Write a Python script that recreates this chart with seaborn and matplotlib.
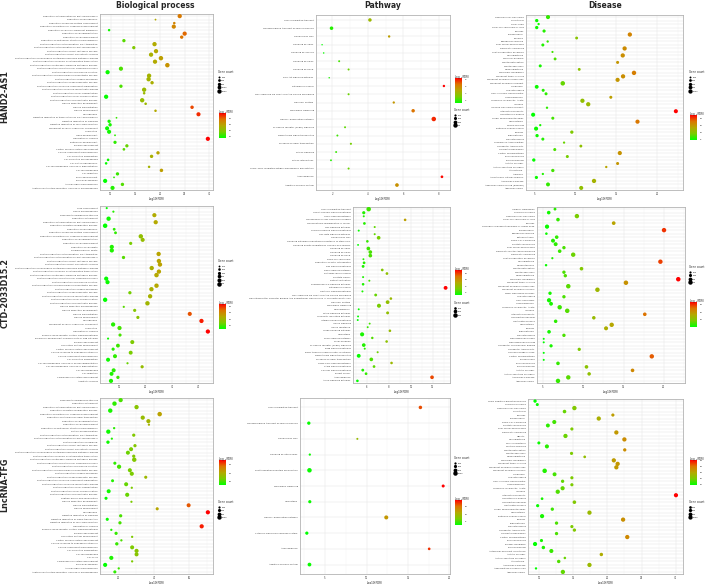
import numpy as np
import pandas as pd
import matplotlib
matplotlib.use("Agg")
import matplotlib.pyplot as plt
from matplotlib.colors import LinearSegmentedColormap, Normalize
from matplotlib.cm import ScalarMappable
from matplotlib.lines import Line2D
from matplotlib.ticker import AutoMinorLocator
import seaborn as sns

sns.set_theme(style="whitegrid")
plt.rcParams["font.family"] = ["DejaVu Sans"]

# ----------------------------------------------------------------------
# DATA  (-log10(FDR) and gene counts)
# ----------------------------------------------------------------------
column_titles = ["Biological process", "Pathway", "Disease"]
row_titles = ["HAND2-AS1", "CTD-2033D15.2", "LncRNA-TFG"]

# --- Biological process, HAND2-AS1 ---
bp_hand2_terms = [
    "Regulation of transcription by RNA polymerase II", "Regulation of neurogenesis",
    "Regulation of nervous system development", "Regulation of multicellular organismal development",
    "Regulation of cellular component biogenesis", "Regulation of cell differentiation",
    "Regulation of cell development", "Regulation of anatomical structure morphogenesis",
    "Positive regulation of transcription, DNA-templated",
    "Positive regulation of transcription by RNA polymerase II",
    "Positive regulation of RNA metabolic process", "Positive regulation of RNA biosynthetic process",
    "Positive regulation of nucleobase-containing compound metabolic process",
    "Positive regulation of nucleic acid-templated transcription",
    "Positive regulation of nitrogen compound metabolic process",
    "Positive regulation of multicellular organismal process",
    "Positive regulation of molecular function",
    "Positive regulation of macromolecule biosynthetic process",
    "Positive regulation of gene expression", "Positive regulation of developmental process",
    "Positive regulation of cellular component organization",
    "Positive regulation of cellular biosynthetic process",
    "Positive regulation of cell differentiation", "Positive regulation of cell communication",
    "Positive regulation of biosynthetic process", "Neuron projection development",
    "Neuron differentiation", "Neuron development", "Neurogenesis",
    "Negative regulation of transcription by RNA polymerase II", "Negative regulation of signaling",
    "Negative regulation of cell communication", "Movement of cell or subcellular component",
    "Locomotion", "Head development", "Generation of neurons", "Epithelium development",
    "Embryo development", "Central nervous system development", "Cellular component morphogenesis",
    "Cell projection organization", "Cell projection morphogenesis", "Cell part morphogenesis",
    "Cell morphogenesis involved in differentiation", "Cell morphogenesis", "Cell migration",
    "Brain development", "Biological adhesion", "Animal organ morphogenesis",
    "Anatomical structure formation involved in morphogenesis",
]
bp_hand2_fdr = [24.0, 19.1, 22.9, 22.8, 9.7, 25.0, 24.4, 12.7, 18.9, 14.7, 19.2, 18.2, 20.2, 19.0,
                21.5, 12.1, 9.4, 17.8, 17.7, 18.4, 12.1, 16.8, 16.8, 9.1, 16.4, 17.1, 26.5, 19.1,
                27.8, 11.2, 9.7, 9.9, 9.3, 9.7, 10.9, 29.7, 10.9, 13.3, 12.7, 19.6, 18.3, 9.5, 9.1,
                17.8, 20.3, 11.4, 10.7, 8.9, 12.4, 10.4]
bp_hand2_genes = [1450, 260, 520, 1400, 480, 1420, 900, 880, 1480, 860, 1460, 1440, 1560, 1450,
                  1600, 1380, 1420, 1500, 1520, 920, 880, 1480, 520, 1440, 1500, 540, 950, 500,
                  1350, 240, 860, 900, 1300, 1320, 260, 1400, 840, 860, 560, 900, 920, 540, 520,
                  480, 960, 880, 250, 1380, 900, 1350]
bp_hand2_ticks = [10, 15, 20, 25, 30]
bp_hand2_breaks = [300, 600, 900, 1200, 1500]

# --- Biological process, CTD-2033D15.2 ---
bp_ctd_terms = [
    "Tube development", "Tissue morphogenesis", "Response to endogenous stimulus",
    "Regulation of transport", "Regulation of transcription by RNA polymerase II",
    "Regulation of protein modification process", "Regulation of neurogenesis",
    "Regulation of nervous system development", "Regulation of multicellular organismal development",
    "Regulation of cell differentiation", "Regulation of cell development", "Regulation of cell death",
    "Programmed cell death", "Positive regulation of transcription, DNA-templated",
    "Positive regulation of transcription by RNA polymerase II",
    "Positive regulation of RNA metabolic process", "Positive regulation of RNA biosynthetic process",
    "Positive regulation of nucleobase-containing compound metabolic process",
    "Positive regulation of nucleic acid-templated transcription",
    "Positive regulation of nitrogen compound metabolic process",
    "Positive regulation of multicellular organismal process",
    "Positive regulation of molecular function",
    "Positive regulation of macromolecule biosynthetic process",
    "Positive regulation of gene expression", "Positive regulation of developmental process",
    "Positive regulation of cellular biosynthetic process",
    "Positive regulation of cell communication", "Positive regulation of biosynthetic process",
    "Neuron projection morphogenesis", "Neuron projection development", "Neuron differentiation",
    "Neuron development", "Neurogenesis", "Movement of cell or subcellular component", "Locomotion",
    "Generation of neurons", "Enzyme linked receptor protein signaling pathway",
    "Embryonic development ending in birth or egg hatching", "Embryo development",
    "Circulatory system development", "Central nervous system development",
    "Cellular response to endogenous stimulus", "Cellular component morphogenesis",
    "Cell projection organization", "Cell morphogenesis involved in neuron differentiation",
    "Cell morphogenesis involved in differentiation", "Cell morphogenesis", "Cell migration",
    "Cardiovascular system development", "Apoptotic process",
]
bp_ctd_fdr = [5.4, 7.9, 23.3, 6.1, 23.8, 4.8, 8.2, 8.7, 18.2, 18.9, 14.4, 7.3, 7.3, 24.9, 11.7,
              25.0, 25.4, 22.3, 25.0, 24.1, 5.2, 5.7, 24.1, 22.2, 14.1, 21.7, 4.8, 20.7, 11.8,
              15.9, 36.6, 17.1, 41.0, 7.8, 10.2, 43.4, 10.4, 5.9, 15.0, 9.6, 7.8, 14.4, 8.5, 5.9,
              13.2, 18.7, 8.0, 7.2, 9.6, 7.0]
bp_ctd_genes = [130, 140, 520, 560, 540, 600, 230, 240, 580, 500, 300, 520, 540, 560, 320, 560,
                570, 560, 560, 600, 520, 520, 580, 560, 320, 560, 560, 580, 140, 300, 500, 300,
                540, 540, 520, 540, 290, 130, 480, 440, 300, 460, 480, 480, 140, 310, 480, 470,
                320, 520]
bp_ctd_ticks = [10, 20, 30, 40]
bp_ctd_breaks = [100, 200, 300, 400, 500, 600]

# --- Biological process, LncRNA-TFG ---
bp_tfg_terms = [
    "Response to endogenous stimulus", "Regulation of transport",
    "Regulation of transcription by RNA polymerase II", "Regulation of protein modification process",
    "Regulation of multicellular organismal development",
    "Regulation of intracellular signal transduction", "Regulation of cell differentiation",
    "Regulation of cell development", "Regulation of anatomical structure morphogenesis",
    "Protein phosphorylation", "Positive regulation of transcription, DNA-templated",
    "Positive regulation of transcription by RNA polymerase II", "Positive regulation of signaling",
    "Positive regulation of RNA metabolic process", "Positive regulation of RNA biosynthetic process",
    "Positive regulation of nucleobase-containing compound metabolic process",
    "Positive regulation of nucleic acid-templated transcription",
    "Positive regulation of nitrogen compound metabolic process",
    "Positive regulation of multicellular organismal process",
    "Positive regulation of molecular function",
    "Positive regulation of macromolecule biosynthetic process",
    "Positive regulation of gene expression", "Positive regulation of developmental process",
    "Positive regulation of cellular component organization",
    "Positive regulation of cellular biosynthetic process",
    "Positive regulation of cell differentiation", "Positive regulation of cell communication",
    "Positive regulation of biosynthetic process", "Peptidyl-amino acid modification",
    "Neuron projection development", "Neuron differentiation", "Neuron development", "Neurogenesis",
    "Negative regulation of signaling", "Negative regulation of signal transduction",
    "Negative regulation of cell communication", "Generation of neurons",
    "Enzyme linked receptor protein signaling pathway", "Embryo development",
    "Circulatory system development", "Central nervous system development",
    "Cellular response to endogenous stimulus", "Cellular component morphogenesis",
    "Cell projection organization", "Cell morphogenesis", "Cell cycle",
    "Cardiovascular system development", "Biological adhesion", "Animal organ morphogenesis",
    "Anatomical structure formation involved in morphogenesis",
]
bp_tfg_fdr = [21.1, 17.6, 30.1, 15.2, 43.2, 33.6, 36.8, 37.1, 17.4, 14.1, 28.5, 16.1, 13.9, 29.2,
              27.0, 25.2, 28.5, 28.8, 17.8, 20.2, 26.3, 27.4, 35.3, 16.5, 24.2, 27.4, 14.3, 24.8,
              12.8, 27.2, 59.6, 41.8, 70.5, 21.1, 13.5, 20.7, 67.0, 15.8, 18.5, 27.6, 21.5, 18.9,
              27.6, 30.1, 30.1, 15.8, 27.6, 12.3, 20.0, 17.8]
bp_tfg_genes = [1100, 1200, 1150, 1200, 1250, 1100, 1050, 320, 330, 1150, 650, 300, 700, 650,
                1000, 1000, 650, 1200, 600, 1100, 1000, 1050, 600, 550, 1000, 320, 1000, 1050,
                600, 300, 1000, 600, 1100, 650, 600, 650, 1100, 320, 650, 320, 330, 700, 1000,
                1050, 1000, 1050, 320, 1050, 320, 600]
bp_tfg_ticks = [20, 40, 60]
bp_tfg_breaks = [300, 600, 900, 1200]

# --- Pathway, HAND2-AS1 ---
pw_hand2_terms = [
    "Vesicle-mediated transport", "Transmembrane transport of small molecules",
    "Signalling by NGF", "Signaling by VEGF", "Signaling by SCF-KIT", "Signaling by PDGF",
    "Signaling by EGFR", "PI3K-Akt signaling pathway", "Pathways in cancer",
    "NGF signalling via TRKA from the plasma membrane", "Neuronal System", "Membrane Trafficking",
    "Generic Transcription Pathway", "Fc epsilon receptor (FCERI) signaling",
    "Downstream signal transduction", "Diseases of signal transduction", "DAP12 signaling",
    "DAP12 interactions", "Class I MHC mediated antigen processing & presentation",
    "Axon guidance", "Adaptive Immune System",
]
pw_hand2_fdr = [4.12, 1.96, 5.20, 1.43, 1.52, 2.39, 2.92, 1.83, 8.28, 2.92, 5.46, 6.55, 7.71,
                2.72, 2.29, 3.05, 2.22, 1.93, 2.92, 8.17, 5.64]
pw_hand2_genes = [250, 260, 120, 40, 45, 80, 85, 45, 120, 85, 110, 250, 420, 80, 80, 90, 75, 70,
                  85, 150, 280]
pw_hand2_ticks = [2, 4, 6, 8]
pw_hand2_breaks = [100, 200, 300, 400]

# --- Pathway, CTD-2033D15.2 ---
pw_ctd_terms = [
    "Vesicle-mediated transport", "VEGFA-VEGFR2 Signaling Pathway", "VEGF signaling pathway",
    "Transmission across Chemical Synapses", "Transcriptional misregulation in cancer",
    "TNF signaling pathway", "Thyroid hormone signaling pathway", "TGF-beta signaling pathway",
    "Signalling by NGF", "Signaling pathways regulating pluripotency of stem cells",
    "Signaling events mediated by VEGFR1 and VEGFR2", "Signaling by VEGF", "Signaling by PDGF",
    "Signaling by EGFR", "Renal cell carcinoma", "Regulation of actin cytoskeleton",
    "Ras signaling pathway", "Rap1 signaling pathway", "Proteoglycans in cancer", "Prostate cancer",
    "Platelet activation", "Phospholipase D signaling pathway", "Pathways in cancer",
    "Oxytocin signaling pathway", "NGF signalling via TRKA from the plasma membrane",
    "Neurotransmitter Receptor Binding And Downstream Transmission In The Postsynaptic Cell",
    "Neuronal System", "Membrane Trafficking", "Melanogenesis", "MAPK signaling pathway",
    "Longevity regulating pathway", "Integrin signalling pathway", "Insulin Signaling",
    "Insulin resistance", "Hippo signaling pathway", "Hemostasis", "FoxO signaling pathway",
    "Focal adhesion", "Fc epsilon receptor (FCERI) signaling", "ErbB signaling pathway",
    "EGFR tyrosine kinase inhibitor resistance", "Downstream signal transduction",
    "Diseases of signal transduction", "cGMP-PKG signaling pathway", "cAMP signaling pathway",
    "Calcium signaling pathway", "Breast cancer", "Axon guidance", "AMPK signaling pathway",
]
pw_ctd_fdr = [6.15, 5.70, 5.70, 9.48, 5.76, 6.70, 5.24, 6.70, 7.06, 6.03, 5.18, 6.12, 6.30, 6.30,
              5.67, 5.73, 5.64, 7.39, 7.82, 5.64, 6.21, 5.64, 13.18, 5.58, 6.79, 8.18, 7.88, 7.09,
              5.24, 7.88, 5.18, 5.15, 6.24, 6.06, 8.09, 5.55, 6.48, 7.79, 5.70, 5.79, 6.97, 5.24,
              6.39, 8.24, 6.64, 5.61, 5.91, 11.94, 5.12]
pw_ctd_genes = [300, 150, 60, 100, 110, 60, 60, 60, 200, 100, 50, 200, 200, 200, 55, 110, 120,
                110, 110, 60, 60, 100, 220, 60, 120, 100, 210, 240, 55, 130, 55, 55, 55, 55, 100,
                250, 90, 100, 200, 60, 60, 220, 200, 100, 110, 120, 110, 200, 100]
pw_ctd_ticks = [6, 8, 10, 12]
pw_ctd_breaks = [100, 200, 300]

# --- Pathway, LncRNA-TFG ---
pw_tfg_terms = [
    "Vesicle-mediated transport", "Transmembrane transport of small molecules", "Signalling by NGF",
    "Signaling by Interleukins", "Post-translational protein modification", "Membrane Trafficking",
    "Hemostasis", "Generic Transcription Pathway", "Cytokine Signaling in Immune system",
    "Axon guidance", "Adaptive Immune System",
]
pw_tfg_fdr = [16.5, 3.03, 8.89, 3.15, 3.11, 19.25, 3.15, 12.38, 2.79, 17.56, 3.11]
pw_tfg_genes = [600, 550, 200, 250, 1000, 450, 500, 800, 520, 350, 700]
pw_tfg_ticks = [5, 10, 15, 20]
pw_tfg_breaks = [250, 500, 750, 1000]

# --- Disease, HAND2-AS1 ---
ds_hand2_terms = [
    "Squamous cell carcinoma", "Solid tumor", "Small head", "Small cell carcinoma of lung",
    "Seizures", "Schizophrenia", "Sarcoma", "Rhabdomyosarcoma", "Poor school performance",
    "Pancreatic carcinoma", "Orbital separation excessive", "Neuroblastoma", "Myeloid Leukemia",
    "Mental Retardation", "Mental deficiency", "Medulloblastoma", "Mammary Neoplasms",
    "Malignant tumor of colon", "Malignant neoplasm of pancreas", "Malignant neoplasm of breast",
    "Lymphoma", "Low intelligence", "Liver Cirrhosis, Experimental", "Leukemogenesis",
    "Leukemia, Myelocytic, Acute", "Ischemia", "Invasive carcinoma of breast",
    "Intellectual Disability", "Hypertensive disease", "Global developmental delay",
    "Glioblastoma", "Febrile seizures", "Epithelial ovarian cancer", "Epilepsy", "Endometriosis",
    "Dull intelligence", "Craniofacial Abnormalities", "Congenital Abnormality",
    "Colorectal Neoplasms", "Central neuroblastoma", "Brain Neoplasms", "Bipolar Disorder",
    "Autistic Disorder", "Autism Spectrum Disorders", "Astrocytoma", "Anaplasia",
    "Amyotrophic Lateral Sclerosis", "Alzheimer's Disease", "Adenocarcinoma of lung (disorder)",
    "Adenocarcinoma",
]
ds_hand2_fdr = [6.62, 5.24, 5.47, 5.24, 6.14, 16.65, 10.13, 6.58, 5.99, 16.01, 7.17, 15.78, 7.49,
                15.15, 5.67, 10.45, 17.16, 15.82, 15.15, 8.43, 5.24, 6.03, 6.38, 14.32, 10.84,
                11.55, 6.50, 22.29, 4.80, 7.21, 17.59, 5.67, 5.16, 9.54, 5.28, 5.99, 8.59, 10.65,
                7.45, 15.42, 8.99, 4.88, 15.15, 13.76, 7.21, 5.99, 5.20, 12.26, 6.62, 10.69]
ds_hand2_genes = [900, 600, 300, 600, 550, 1000, 450, 300, 500, 1000, 250, 1000, 450, 500, 500,
                  450, 1050, 1000, 950, 1100, 800, 500, 500, 500, 1000, 1000, 300, 900, 900, 500,
                  950, 280, 900, 600, 600, 500, 280, 450, 500, 950, 500, 600, 500, 300, 600, 280,
                  550, 1000, 850, 900]
ds_hand2_ticks = [5, 10, 15, 20]
ds_hand2_breaks = [200, 400, 600, 800, 1000]

# --- Disease, CTD-2033D15.2 ---
ds_ctd_terms = [
    "Unipolar Depression", "Thyroid carcinoma", "Squamous cell carcinoma",
    "Small cell carcinoma of lung", "Seizures", "Secondary malignant neoplasm of lymph node",
    "Schizophrenia", "Rhabdomyosarcoma", "Retinoblastoma", "Renal Cell Carcinoma",
    "Prostatic Neoplasms", "Poor school performance", "Pancreatic Ductal Adenocarcinoma",
    "Pancreatic carcinoma", "Orbital separation excessive", "Neuroblastoma", "Microphthalmos",
    "Mental Retardation", "Mental deficiency", "Medulloblastoma", "Mammary Neoplasms",
    "Malignant tumor of colon", "Malignant neoplasm of pancreas", "Malignant neoplasm of ovary",
    "Major Depressive Disorder", "Low intelligence", "Liver neoplasms", "Leukemogenesis",
    "Leukemia, Myelocytic, Acute", "Ischemia", "Intellectual Disability", "Hyperactive behavior",
    "Huntington Disease", "Glioblastoma", "Epilepsy", "Endometriosis", "Dull intelligence",
    "Depressed nasal ridge", "Depressed nasal bridge", "Congenital chromosomal disease",
    "Congenital Abnormality", "Concave bridge of nose", "Central neuroblastoma", "Bulbous nose",
    "Brain Neoplasms", "Bipolar Disorder", "Autistic Disorder", "Autism Spectrum Disorders",
    "Alzheimer's Disease", "Adenocarcinoma",
]
ds_ctd_fdr = [6.48, 5.70, 9.20, 6.85, 13.77, 5.49, 20.02, 5.41, 6.69, 6.23, 6.56, 7.59, 7.06, 8.74,
              6.15, 19.57, 5.37, 9.77, 7.59, 7.76, 21.79, 15.29, 8.13, 11.75, 5.86, 7.59, 5.74,
              5.99, 7.06, 8.00, 17.63, 11.30, 6.56, 13.52, 12.82, 5.74, 7.59, 5.08, 5.08, 5.99,
              9.49, 5.08, 18.50, 5.08, 6.85, 10.39, 16.11, 10.72, 8.13, 6.85]
ds_ctd_genes = [250, 400, 600, 400, 420, 550, 600, 200, 400, 480, 480, 350, 400, 600, 150, 600,
                180, 400, 350, 350, 620, 620, 620, 620, 350, 350, 550, 450, 600, 620, 400, 380,
                380, 600, 500, 400, 350, 120, 120, 330, 330, 120, 600, 120, 400, 400, 400, 380,
                600, 600]
ds_ctd_ticks = [5, 10, 15, 20]
ds_ctd_breaks = [150, 300, 450, 600]

# --- Disease, LncRNA-TFG ---
ds_tfg_terms = [
    "Triple Negative Breast Neoplasms", "Thyroid carcinoma", "Squamous cell carcinoma",
    "Solid tumor", "Seizures", "Schizophrenia", "Renal Cell Carcinoma", "Prostatic Neoplasms",
    "Poor school performance", "Pancreatic carcinoma", "Obesity", "Neuroblastoma",
    "Muscle hypotonia", "Multiple Myeloma", "Mental Retardation", "Mental deficiency",
    "Medulloblastoma", "Mammary Neoplasms", "Malignant tumor of colon",
    "Malignant neoplasm of pancreas", "Malignant neoplasm of ovary", "Lymphoma",
    "Low intelligence", "Liver Cirrhosis, Experimental", "Leukemogenesis",
    "Leukemia, Myelocytic, Acute", "Ischemia", "Intellectual Disability", "Hypertensive disease",
    "Hyperactive behavior", "Huntington Disease", "Global developmental delay", "Glioblastoma",
    "Epithelial ovarian cancer", "Epilepsy", "Endometriosis", "Dull intelligence",
    "Congenital Abnormality", "Colorectal Neoplasms", "Central neuroblastoma", "Brain Neoplasms",
    "Bladder Neoplasm", "Bipolar Disorder", "Autosomal dominant inheritance", "Autistic Disorder",
    "Autism Spectrum Disorders", "Astrocytoma", "Alzheimer's Disease",
    "Adenomatous Polyposis Coli", "Adenocarcinoma",
]
ds_tfg_fdr = [9.39, 9.72, 15.16, 13.71, 20.80, 18.73, 12.21, 11.27, 14.79, 21.31, 13.85, 22.49,
              9.95, 11.13, 22.54, 14.74, 16.67, 20.94, 21.50, 21.31, 10.80, 12.25, 14.79, 13.43,
              14.79, 13.43, 12.72, 30.05, 10.42, 15.16, 9.77, 11.92, 17.37, 10.42, 22.30, 12.54,
              14.79, 15.16, 12.54, 22.91, 10.33, 9.39, 10.61, 11.78, 19.11, 13.76, 12.86, 17.37,
              9.53, 13.47]
ds_tfg_genes = [600, 500, 1050, 700, 550, 1000, 900, 850, 550, 1000, 1000, 1000, 500, 900, 600,
                550, 400, 1000, 1000, 1000, 1100, 850, 550, 600, 550, 950, 1000, 950, 400, 700,
                550, 600, 1000, 950, 1000, 600, 550, 600, 600, 1000, 550, 950, 650, 900, 650, 350,
                650, 1000, 300, 1000]
ds_tfg_ticks = [10, 15, 20, 25, 30]
ds_tfg_breaks = [400, 600, 800, 1000]

# ----------------------------------------------------------------------
# LAYOUT (pixel boxes: x0, y0, x1, y1) and legend anchors
# ----------------------------------------------------------------------
W, H = 709, 584
SMAX = 10.5
cmap = LinearSegmentedColormap.from_list(
    "green_red", ["#00ff00", "#7acc00", "#b5a800", "#dc7400", "#ff0000"])

panels = [
    (bp_hand2_terms, bp_hand2_fdr, bp_hand2_genes, bp_hand2_ticks, bp_hand2_breaks,
     (100, 14, 213, 190), 218, 70, 108),
    (bp_ctd_terms, bp_ctd_fdr, bp_ctd_genes, bp_ctd_ticks, bp_ctd_breaks,
     (100, 206, 213, 383), 218, 259, 299),
    (bp_tfg_terms, bp_tfg_fdr, bp_tfg_genes, bp_tfg_ticks, bp_tfg_breaks,
     (100, 398, 213, 574), 218, 500, 455),
    (pw_hand2_terms, pw_hand2_fdr, pw_hand2_genes, pw_hand2_ticks, pw_hand2_breaks,
     (316, 15, 450, 190), 454, 108, 73),
    (pw_ctd_terms, pw_ctd_fdr, pw_ctd_genes, pw_ctd_ticks, pw_ctd_breaks,
     (353, 207, 450, 383), 454, 301, 265),
    (pw_tfg_terms, pw_tfg_fdr, pw_tfg_genes, pw_tfg_ticks, pw_tfg_breaks,
     (300, 398, 450, 574), 454, 456, 495),
    (ds_hand2_terms, ds_hand2_fdr, ds_hand2_genes, ds_hand2_ticks, ds_hand2_breaks,
     (526, 15, 683, 190), 689, 70, 110),
    (ds_ctd_terms, ds_ctd_fdr, ds_ctd_genes, ds_ctd_ticks, ds_ctd_breaks,
     (537, 207, 685, 383), 689, 265, 297),
    (ds_tfg_terms, ds_tfg_fdr, ds_tfg_genes, ds_tfg_ticks, ds_tfg_breaks,
     (528, 399, 683, 574), 689, 500, 455),
]

fig = plt.figure(figsize=(W / 100, H / 100), dpi=100)
fig.patch.set_facecolor("white")


def draw_panel(terms, fdr, genes, ticks, breaks, box, leg_x, size_top, cbar_top):
    n = len(terms)
    df = pd.DataFrame({"pos": np.arange(n), "term": terms, "fdr": fdr, "genes": genes})
    x0, y0, x1, y1 = box
    ax = fig.add_axes([x0 / W, 1 - y1 / H, (x1 - x0) / W, (y1 - y0) / H])
    lo, hi = min(fdr), max(fdr)
    norm = Normalize(lo, hi)
    gmax = max(max(genes), max(breaks))

    sns.scatterplot(data=df, x="fdr", y="pos", hue="fdr", palette=cmap, hue_norm=norm,
                    size="genes", sizes=(0, SMAX), size_norm=(0, gmax),
                    linewidth=0, legend=False, ax=ax, zorder=3)

    pad = 0.05 * (hi - lo)
    ax.set_xlim(lo - pad, hi + pad)
    ax.set_ylim(n - 0.4, -0.6)
    ax.set_yticks(df["pos"])
    ax.set_yticklabels(df["term"], fontsize=1.6, color="#3d3d3d")
    ax.set_xticks(ticks)
    ax.set_xticklabels([str(t) for t in ticks], fontsize=1.8, color="#3d3d3d")
    ax.set_xlabel("-log10(FDR)", fontsize=2.0, labelpad=0.5)
    ax.set_ylabel("")
    ax.xaxis.set_minor_locator(AutoMinorLocator(2))
    ax.set_facecolor("white")
    ax.grid(True, which="major", color="#e6e6e6", lw=0.35)
    ax.grid(True, which="minor", axis="x", color="#f2f2f2", lw=0.25)
    ax.tick_params(axis="both", which="major", length=1.0, width=0.3, color="#666666", pad=0.7)
    ax.tick_params(axis="x", which="minor", length=0)
    for s in ax.spines.values():
        s.set_visible(True)
        s.set_color("#b3b3b3")
        s.set_linewidth(0.6)

    # colour bar legend
    cax = fig.add_axes([(leg_x + 1) / W, 1 - (cbar_top + 30) / H, 7 / W, 25 / H])
    cb = fig.colorbar(ScalarMappable(norm=norm, cmap=cmap), cax=cax)
    cb.outline.set_visible(False)
    cb.set_ticks([t for t in ticks if lo <= t <= hi])
    cb.ax.tick_params(labelsize=1.6, length=1.0, width=0.3, color="white", pad=0.8)
    fig.text(leg_x / W, 1 - cbar_top / H, "-log$_{10}$(FDR)", fontsize=1.9, va="top")

    # gene count legend
    handles = [Line2D([], [], ls="", marker="o", color="black", markeredgewidth=0,
                      markersize=np.sqrt(SMAX * b / gmax), label=str(b)) for b in breaks]
    ax.legend(handles=handles, title="Gene count", loc="upper left",
              bbox_to_anchor=(leg_x / W, 1 - size_top / H), bbox_transform=fig.transFigure,
              frameon=False, fontsize=1.6, title_fontsize=1.9, labelspacing=0.9,
              handletextpad=0.3, borderpad=0, borderaxespad=0, handlelength=1.2,
              alignment="left")


for spec in panels:
    draw_panel(*spec)

for title, xc in zip(column_titles, [155, 383, 605]):
    fig.text(xc / W, 1 - 6 / H, title, ha="center", va="center", fontsize=5.5, fontweight="bold")

for label, yc in zip(row_titles, [97, 293, 485]):
    fig.text(5 / W, 1 - yc / H, label, rotation=90, ha="center", va="center",
             fontsize=5.8, fontweight="bold")

fig.savefig("out.png", dpi=100)
